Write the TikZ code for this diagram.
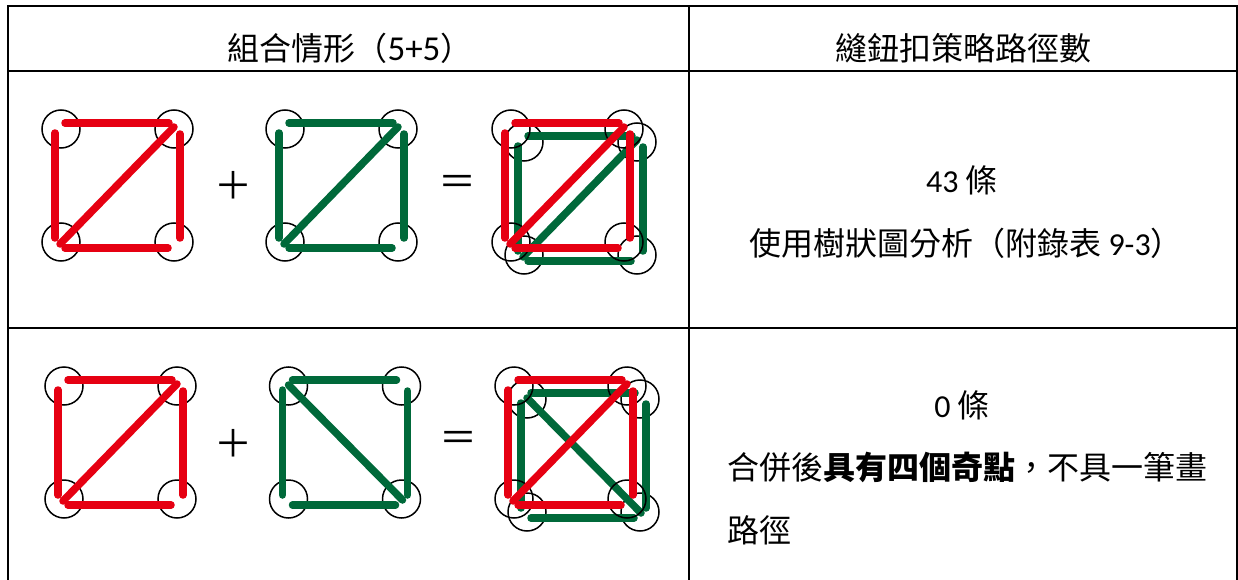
\documentclass[tikz,border=0pt]{standalone}
\usepackage{fontspec}
\setmainfont{Carlito}
\newfontfamily\cjk{Noto Sans CJK TC}
\usetikzlibrary{calc}
\definecolor{bred}{HTML}{E60012}
\definecolor{bgreen}{HTML}{00693A}
\tikzset{
  grid/.style={line width=2pt, line cap=rect},
  hole/.style={draw=black, line width=1.5pt},
  thread/.style={line width=7.5pt, line cap=round},
  txt/.style={inner sep=0pt, font=\fontsize{32}{38}\selectfont},
  sign/.style={inner sep=0pt, font=\cjk\fontsize{38}{44}\selectfont},
}
% #1 name, #2 x, #3 y of top-left hole centre
\newcommand\holes[3]{%
  \coordinate (#1tl) at (#2,#3);
  \coordinate (#1tr) at ($(#1tl)+(113,0)$);
  \coordinate (#1bl) at ($(#1tl)+(0,113)$);
  \coordinate (#1br) at ($(#1tl)+(113,113)$);
  \foreach \c in {tl,tr,bl,br} \draw[hole] (#1\c) circle (19);
}
% #1 name, #2 colour, #3 diagonal (a = TR-BL, b = TL-BR)
\newcommand\threads[3]{%
  \draw[thread,#2] ($(#1tl)+(4,-6)$) -- ($(#1tr)+(-5,-6)$);
  \draw[thread,#2] ($(#1tl)+(-6,4)$) -- ($(#1bl)+(-6,-4)$);
  \draw[thread,#2] ($(#1tr)+(6,5)$) -- ($(#1br)+(6,-4)$);
  \draw[thread,#2] ($(#1bl)+(4,6)$) -- ($(#1br)+(-6,6)$);
  \ifx a#3
    \draw[thread,#2] ($(#1tr)+(0,-2)$) -- ($(#1bl)+(-1,2)$);
  \else
    \draw[thread,#2] ($(#1tl)+(0,-1)$) -- ($(#1br)+(1,1)$);
  \fi
}
\begin{document}
\begin{tikzpicture}[x=1pt,y=-1pt]
\useasboundingbox (0,0) rectangle (1238,580);
% table
\coordinate (c00) at (7.5,6);
\coordinate (c01) at (689,6);
\coordinate (c02) at (1237,6);
\coordinate (c10) at (7.5,71);
\coordinate (c12) at (1237,71);
\coordinate (c20) at (7.5,328);
\coordinate (c22) at (1237,328);
\coordinate (c30) at (7.5,580);
\coordinate (c31) at (689,580);
\coordinate (c32) at (1237,580);
\draw[grid] (c00) -- (c02);
\draw[grid] (c10) -- (c12);
\draw[grid] (c20) -- (c22);
\draw[grid] (c00) -- (c30);
\draw[grid] (c01) -- (c31);
\draw[grid] (c02) -- (c32);
% headers
\node[txt] (h1) at (350,48) {{\cjk 組合情形（}\fontsize{35}{38}\selectfont 5+5{\cjk\fontsize{32}{38}\selectfont ）}};
\node[txt] (h2) at (963,48) {\cjk 縫鈕扣策略路徑數};
% row 1 figures
\holes{a}{61}{129}
\threads{a}{bred}{a}
\node[sign] (p1) at (233,185) {＋};
\holes{b}{285}{129}
\threads{b}{bgreen}{a}
\node[sign] (e1) at (457,185) {＝};
\holes{cg}{524}{142}
\threads{cg}{bgreen}{a}
\holes{cr}{511}{129}
\threads{cr}{bred}{a}
% row 1 text
\node[txt] (r1a) at (962,180) {43 {\cjk 條}};
\node[txt] (r1b) at (966,243) {{\cjk 使用樹狀圖分析（附錄表} 9-3{\cjk ）}};
% row 2 figures
\holes{d}{64}{386}
\threads{d}{bred}{a}
\node[sign] (p2) at (233.5,443) {＋};
\holes{e}{288.5}{386}
\threads{e}{bgreen}{b}
\node[sign] (e2) at (458,441) {＝};
\holes{fg}{527}{399}
\threads{fg}{bgreen}{b}
\holes{fr}{514}{386}
\threads{fr}{bred}{a}
% row 2 text
\node[txt] (r2a) at (962,405) {0 {\cjk 條}};
\node[txt,anchor=west] (r2b) at (727,467) {\cjk 合併後\textbf{具有四個奇點}，不具一筆畫};
\node[txt,anchor=west] (r2c) at (727,530) {\cjk 路徑};
\end{tikzpicture}
\end{document}
